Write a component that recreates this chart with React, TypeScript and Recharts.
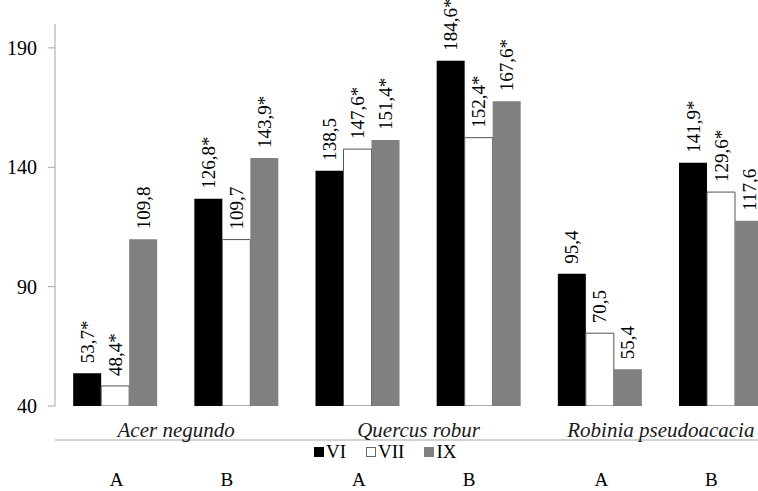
import React from 'react';
import { BarChart, Bar, XAxis, YAxis, Legend, LabelList } from 'recharts';

const groups = ['A', 'B', 'A', 'B', 'A', 'B'];
const species = ['Acer negundo', 'Acer negundo', 'Quercus robur', 'Quercus robur', 'Robinia pseudoacacia', 'Robinia pseudoacacia'];
const viValues = [53.7, 126.8, 138.5, 184.6, 95.4, 141.9];
const viiValues = [48.4, 109.7, 147.6, 152.4, 70.5, 129.6];
const ixValues = [109.8, 143.9, 151.4, 167.6, 55.4, 117.6];
const viLabels = ['53,7*', '126,8*', '138,5', '184,6*', '95,4', '141,9*'];
const viiLabels = ['48,4*', '109,7', '147,6*', '152,4*', '70,5', '129,6*'];
const ixLabels = ['109,8', '143,9*', '151,4*', '167,6*', '55,4', '117,6'];
const yTicks = [40, 90, 140, 190];
const sepTicks = [0, 2, 4];

const data = groups.map((g, i) => ({
  group: g,
  species: species[i],
  VI: viValues[i],
  VII: viiValues[i],
  IX: ixValues[i],
  viLabel: viLabels[i],
  viiLabel: viiLabels[i],
  ixLabel: ixLabels[i],
}));

const AXIS = '#a6a6a6';
const FONT = 'Liberation Serif';

const renderLabel = (props: any) => {
  const { x, y, width, value } = props;
  const cx = Number(x) + Number(width) / 2;
  const ty = Number(y) - 10;
  return (
    <text transform={`translate(${cx},${ty}) rotate(-90)`} x={0} y={0} dy="0.35em" textAnchor="start" fontSize={19} style={{ fontFamily: FONT }} fill="#000">
      {value}
    </text>
  );
};

// species axis sits below the group axis; text pulled up to sit just under the plot
const SpeciesTick = (props: any) => {
  const { x, y, payload } = props;
  return (
    <text x={x} y={Number(y) - 11} dy="0.35em" textAnchor="middle" fontSize={21} fontStyle="italic" style={{ fontFamily: FONT }} fill="#1a1a1a">
      {payload.value}
    </text>
  );
};

const GroupTick = (props: any) => {
  const { x, y, payload } = props;
  const shift = payload.value === 'B' ? -10 : 1;
  return (
    <text x={Number(x) + shift} y={Number(y) + 73} dy="0.35em" textAnchor="middle" fontSize={19} style={{ fontFamily: FONT }} fill="#000">
      {payload.value}
    </text>
  );
};

const YTick = (props: any) => {
  const { x, y, payload } = props;
  return (
    <text x={x} y={y} dy="0.35em" textAnchor="end" fontSize={20} style={{ fontFamily: FONT }} fill="#000">
      {payload.value}
    </text>
  );
};

const LegendContent = () => {
  const items = [
    { name: 'VI', fill: '#000', stroke: '#000' },
    { name: 'VII', fill: '#fff', stroke: '#666' },
    { name: 'IX', fill: '#808080', stroke: '#808080' },
  ];
  return (
    <div style={{ display: 'flex', alignItems: 'center', height: 20, fontFamily: FONT, fontSize: 19, color: '#000' }}>
      {items.map((it, i) => (
        <div key={it.name} style={{ display: 'flex', alignItems: 'center', marginLeft: i === 0 ? 0 : 20 }}>
          <div style={{ width: 8, height: 8, background: it.fill, border: `1px solid ${it.stroke}`, marginRight: 2 }} />
          <span>{it.name}</span>
        </div>
      ))}
    </div>
  );
};

export default function App() {
  return (
    <div style={{ position: 'absolute', left: 0, top: 0, width: 758, height: 491, overflow: 'hidden', background: '#fff', fontFamily: FONT }}>
      <BarChart width={790} height={491} data={data} margin={{ top: 24, right: 8, bottom: 0, left: 0 }} barCategoryGap="15%" barGap={0}>
        <YAxis
          domain={[40, 200]}
          ticks={yTicks}
          width={55}
          axisLine={{ stroke: AXIS }}
          tickLine={{ stroke: AXIS }}
          tickSize={7}
          tickMargin={11}
          tick={<YTick />}
          allowDataOverflow
        />
        <XAxis
          xAxisId="sep"
          type="number"
          domain={[0, 6]}
          ticks={sepTicks}
          allowDataOverflow
          height={1}
          axisLine={{ stroke: AXIS }}
          tickLine={{ stroke: AXIS }}
          tickSize={6}
          tick={false}
        />
        <XAxis
          xAxisId="species"
          dataKey="species"
          allowDuplicatedCategory={false}
          height={30}
          axisLine={false}
          tickLine={false}
          tickSize={0}
          tickMargin={0}
          interval={0}
          tick={<SpeciesTick />}
        />
        <XAxis
          xAxisId="main"
          dataKey="group"
          height={34}
          axisLine={false}
          tickLine={false}
          tickSize={0}
          tickMargin={0}
          interval={0}
          tick={<GroupTick />}
        />
        <Legend verticalAlign="bottom" content={<LegendContent />} wrapperStyle={{ position: 'absolute', top: 442, left: 314, width: 'auto', height: 20 }} />
        <Bar xAxisId="main" dataKey="VI" fill="#000" isAnimationActive={false}>
          <LabelList dataKey="viLabel" content={renderLabel} />
        </Bar>
        <Bar xAxisId="main" dataKey="VII" fill="#fff" stroke="#555" strokeWidth={1} isAnimationActive={false}>
          <LabelList dataKey="viiLabel" content={renderLabel} />
        </Bar>
        <Bar xAxisId="main" dataKey="IX" fill="#808080" isAnimationActive={false}>
          <LabelList dataKey="ixLabel" content={renderLabel} />
        </Bar>
      </BarChart>
    </div>
  );
}
